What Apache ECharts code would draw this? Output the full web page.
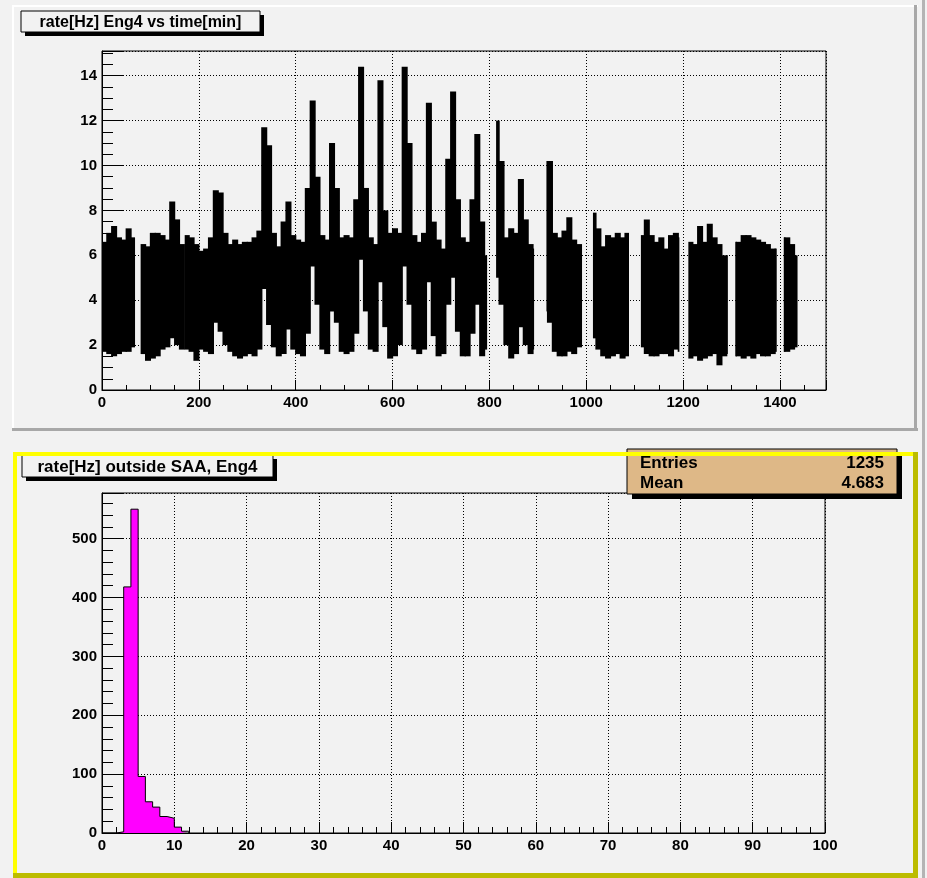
<!DOCTYPE html>
<html>
<head>
<meta charset="utf-8">
<script src="https://cdn.jsdelivr.net/npm/echarts@6/dist/echarts.min.js"></script>
<style>
html, body { margin: 0; padding: 0; background: #f2f2f2; }
#main { width: 927px; height: 878px; }
</style>
</head>
<body>
<div id="main"></div>
<script>
var binStart = [
	0, 10, 20, 30, 40, 50, 60, 70, 80, 90,
	100, 110, 120, 130, 140, 150, 160, 170, 180, 190,
	200, 210, 220, 230, 240, 250, 260, 270, 280, 290,
	300, 310, 320, 330, 340, 350, 360, 370, 380, 390,
	400, 410, 420, 430, 440, 450, 460, 470, 480, 490,
	500, 510, 520, 530, 540, 550, 560, 570, 580, 590,
	600, 610, 620, 630, 640, 650, 660, 670, 680, 690,
	700, 710, 720, 730, 740, 750, 760, 770, 780, 790,
	800, 810, 820, 830, 840, 850, 860, 870, 880, 890,
	900, 910, 920, 930, 940, 950, 960, 970, 980, 990,
	1000, 1010, 1020, 1030, 1040, 1050, 1060, 1070, 1080, 1090,
	1100, 1110, 1120, 1130, 1140, 1150, 1160, 1170, 1180, 1190,
	1200, 1210, 1220, 1230, 1240, 1250, 1260, 1270, 1280, 1290,
	1300, 1310, 1320, 1330, 1340, 1350, 1360, 1370, 1380, 1390,
	1400, 1410, 1420, 1430
];
var rateHigh = [
	6.6, 7.0, 7.3, 6.8, 6.7, 7.2, 6.8, null, 6.5, 6.4,
	7.0, 7.0, 6.9, 6.7, 8.4, 7.6, 6.5, 6.9, 6.8, 6.5,
	6.2, 6.3, 6.8, 8.9, 8.8, 7.0, 6.5, 6.7, 6.5, 6.6,
	6.6, 6.8, 7.1, 11.7, 10.9, 7.0, 6.4, 7.5, 8.4, 6.9,
	6.7, 6.6, 9.0, 12.9, 9.5, 6.9, 6.7, 11.0, 9.0, 6.8,
	6.9, 6.8, 8.5, 14.4, 9.0, 6.8, 6.5, 13.8, 8.0, 7.0,
	7.2, 7.0, 14.4, 11.0, 6.9, 6.6, 7.0, 12.8, 7.5, 6.7,
	6.3, 10.3, 13.3, 8.5, 6.8, 6.6, 8.5, 11.4, 7.5, 6.0,
	null, 12.0, 10.2, 6.8, 7.2, 7.0, 9.4, 7.6, 6.5, 6.3,
	null, 10.2, 10.2, 7.0, 6.8, 7.1, 7.7, 6.7, 6.5, null,
	null, 7.9, 7.2, 6.4, 6.9, 6.8, 7.0, 6.8, 7.0, null,
	null, 6.9, 7.6, 6.9, 6.6, 6.8, 6.3, 6.9, 7.0, 6.8,
	null, 6.6, 6.5, 7.3, 6.6, 7.4, 6.8, 6.5, 6.0, 6.0,
	6.6, 6.6, 6.9, 6.9, 6.8, 6.7, 6.6, 6.5, 6.3, 6.3,
	6.8, 6.8, 6.5, 6.0
];
var rateLow = [
	1.7, 1.6, 1.5, 1.6, 1.7, 1.7, 1.9, null, 1.6, 1.3,
	1.4, 1.5, 1.8, 1.9, 2.3, 2.0, 1.8, 1.8, 1.7, 1.3,
	1.8, 1.7, 1.6, 3.0, 2.6, 2.0, 1.7, 1.5, 1.4, 1.5,
	1.6, 1.5, 1.8, 4.5, 2.9, 1.9, 1.5, 1.6, 2.7, 1.8,
	1.6, 1.5, 2.5, 5.5, 3.8, 1.8, 1.6, 3.5, 3.0, 1.7,
	1.6, 1.7, 2.5, 5.8, 3.5, 1.8, 1.7, 4.8, 2.8, 1.4,
	1.5, 2.0, 5.5, 3.8, 1.8, 1.6, 1.8, 4.8, 2.4, 1.5,
	1.6, 3.8, 5.0, 2.6, 1.5, 1.5, 2.5, 3.8, 1.5, 1.8,
	null, 5.0, 3.8, 2.0, 1.4, 1.6, 2.8, 2.0, 1.6, 1.8,
	null, 3.5, 3.0, 1.7, 1.5, 1.5, 1.7, 1.6, 1.9, null,
	null, 2.3, 1.8, 1.5, 1.4, 1.5, 1.6, 1.4, 1.5, null,
	null, 1.9, 1.6, 1.5, 1.5, 1.6, 1.6, 1.5, 1.8, 1.7,
	null, 1.4, 1.5, 1.3, 1.4, 1.5, 1.6, 1.1, 1.5, 1.6,
	1.5, 1.5, 1.4, 1.5, 1.4, 1.6, 1.5, 1.5, 1.6, 1.7,
	1.7, 1.7, 1.8, 1.9
];
// stretches of time with data (min)
var segments = [
	[0, 67], [81, 170], [172, 794], [815, 891], [919, 990],
	[1015, 1087], [1114, 1191], [1212, 1291], [1309, 1392], [1409, 1435]
];

// ---- bottom pad: histogram of rate outside SAA ----
var histEdges = [0, 2, 3, 4, 5, 6, 7, 8, 9, 10, 11, 12];
var histCounts = [0, 2, 418, 550, 96, 53, 44, 28, 25, 10, 3, 0];
var statLabels = ['Entries', 'Mean'];
var statValues = ['1235', '4.683'];

var FONT = 'Liberation Sans, Arial, Helvetica, sans-serif';
var BG = '#f2f2f2';

var rateData = [];
for (var i = 0; i < binStart.length; i++) {
	if (rateHigh[i] != null) rateData.push([binStart[i], rateLow[i], rateHigh[i]]);
}
var histData = [];
for (var i = 0; i < histEdges.length; i++) {
	histData.push([histEdges[i], histCounts[i]]);
}

function rootAxis(extra) {
	var a = {
		type: 'value',
		axisLine: { show: true, lineStyle: { color: '#000', width: 1 } },
		axisTick: { show: true, inside: true, length: 10, lineStyle: { color: '#000', width: 1 } },
		minorTick: { show: true, splitNumber: 4, length: 5, lineStyle: { color: '#000', width: 1 } },
		splitLine: { show: true, lineStyle: { color: '#000', width: 1, type: [1, 2] } },
		axisLabel: { color: '#000', fontFamily: FONT, fontWeight: 'bold', fontSize: 15, margin: 5,
			formatter: function(v) { return String(v); } }
	};
	for (var k in extra) {
		if (typeof extra[k] === 'object' && a[k]) {
			for (var j in extra[k]) a[k][j] = extra[k][j];
		} else {
			a[k] = extra[k];
		}
	}
	return a;
}

function titleBox(x, y, w, h, text, size) {
	return [
		{ type: 'rect', z: 100, shape: { x: x + 4, y: y + 4, width: w, height: h }, style: { fill: '#000' } },
		{ type: 'rect', z: 101, shape: { x: x, y: y, width: w, height: h }, style: { fill: BG, stroke: '#000', lineWidth: 1 } },
		{ type: 'text', z: 102, x: x + w / 2, y: y + h / 2 + 1, style: { text: text, fill: '#000', font: 'bold ' + size + 'px ' + FONT, align: 'center', verticalAlign: 'middle' } }
	];
}

var graphics = [
	// top pad bevel
	{ type: 'rect', z: 1, shape: { x: 12, y: 5, width: 906, height: 2 }, style: { fill: '#ffffff' } },
	{ type: 'rect', z: 1, shape: { x: 12, y: 5, width: 2, height: 426 }, style: { fill: '#ffffff' } },
	{ type: 'rect', z: 1, shape: { x: 12, y: 428, width: 906, height: 3 }, style: { fill: '#a8a8a8' } },
	{ type: 'rect', z: 1, shape: { x: 914, y: 5, width: 3, height: 426 }, style: { fill: '#a8a8a8' } },
	// canvas right edge
	{ type: 'rect', z: 1, shape: { x: 922, y: 0, width: 3, height: 878 }, style: { fill: '#b4b4b4' } }
];
graphics = graphics.concat(titleBox(21, 11, 239, 21, 'rate[Hz] Eng4 vs time[min]', 16));
graphics = graphics.concat(titleBox(22, 455, 251, 22, 'rate[Hz] outside SAA, Eng4', 17));
// stats box
graphics.push({ type: 'rect', z: 100, shape: { x: 632, y: 454, width: 270, height: 45 }, style: { fill: '#000' } });
graphics.push({ type: 'rect', z: 101, shape: { x: 627, y: 449, width: 270, height: 45 }, style: { fill: '#deb887', stroke: '#000', lineWidth: 1 } });
for (var i = 0; i < statLabels.length; i++) {
	graphics.push({ type: 'text', z: 102, x: 640, y: 463 + i * 20, style: { text: statLabels[i], fill: '#000', font: 'bold 17px ' + FONT, align: 'left', verticalAlign: 'middle' } });
	graphics.push({ type: 'text', z: 102, x: 884, y: 463 + i * 20, style: { text: statValues[i], fill: '#000', font: 'bold 17px ' + FONT, align: 'right', verticalAlign: 'middle' } });
}
// yellow border of the selected bottom pad
graphics.push({ type: 'rect', z: 110, shape: { x: 13, y: 452, width: 905, height: 4 }, style: { fill: '#ffff00' } });
graphics.push({ type: 'rect', z: 110, shape: { x: 13, y: 452, width: 4, height: 425 }, style: { fill: '#ffff00' } });
graphics.push({ type: 'rect', z: 111, shape: { x: 13, y: 873, width: 905, height: 5 }, style: { fill: '#bcbc00' } });
graphics.push({ type: 'rect', z: 111, shape: { x: 913, y: 452, width: 5, height: 426 }, style: { fill: '#bcbc00' } });

var chart = echarts.init(document.getElementById('main'));

var option = {
	backgroundColor: BG,
	animation: false,
	grid: [
		{ left: 102, top: 51, width: 724, height: 339, show: true, borderColor: '#000', borderWidth: 1, backgroundColor: 'transparent' },
		{ left: 102, top: 493, width: 723, height: 340, show: true, borderColor: '#000', borderWidth: 1, backgroundColor: 'transparent' }
	],
	xAxis: [
		rootAxis({ gridIndex: 0, min: 0, max: 1495, interval: 200,
			axisLabel: { showMaxLabel: false } }),
		rootAxis({ gridIndex: 1, min: 0, max: 100, interval: 10,
			minorTick: { splitNumber: 5, length: 6 }, axisTick: { length: 11 } })
	],
	yAxis: [
		rootAxis({ gridIndex: 0, min: 0, max: 15.1, interval: 2,
			axisTick: { length: 22 }, minorTick: { splitNumber: 4, length: 11 },
			axisLabel: { showMaxLabel: false } }),
		rootAxis({ gridIndex: 1, min: 0, max: 577.5, interval: 100,
			axisTick: { length: 22 }, minorTick: { splitNumber: 5, length: 11 },
			axisLabel: { showMaxLabel: false } })
	],
	graphic: graphics,
	series: [
		{
			type: 'custom',
			xAxisIndex: 0,
			yAxisIndex: 0,
			data: rateData,
			encode: { x: 0, y: [1, 2] },
			clip: true,
			renderItem: function(params, api) {
				var t0 = api.value(0), t1 = t0 + 10;
				var children = [];
				for (var s = 0; s < segments.length; s++) {
					var a = Math.max(t0, segments[s][0]);
					var b = Math.min(t1, segments[s][1]);
					if (b > a) {
						var p0 = api.coord([a, api.value(2)]);
						var p1 = api.coord([b, api.value(1)]);
						children.push({
							type: 'rect',
							shape: { x: p0[0] - 0.6, y: p0[1], width: p1[0] - p0[0] + 1.2, height: p1[1] - p0[1] },
							style: { fill: '#000' }
						});
					}
				}
				return { type: 'group', children: children };
			}
		},
		{
			type: 'line',
			xAxisIndex: 1,
			yAxisIndex: 1,
			data: histData,
			step: 'end',
			symbol: 'none',
			lineStyle: { color: '#000', width: 1 },
			areaStyle: { color: '#ff00ff', opacity: 1 }
		}
	]
};

chart.setOption(option);
</script>
</body>
</html>
